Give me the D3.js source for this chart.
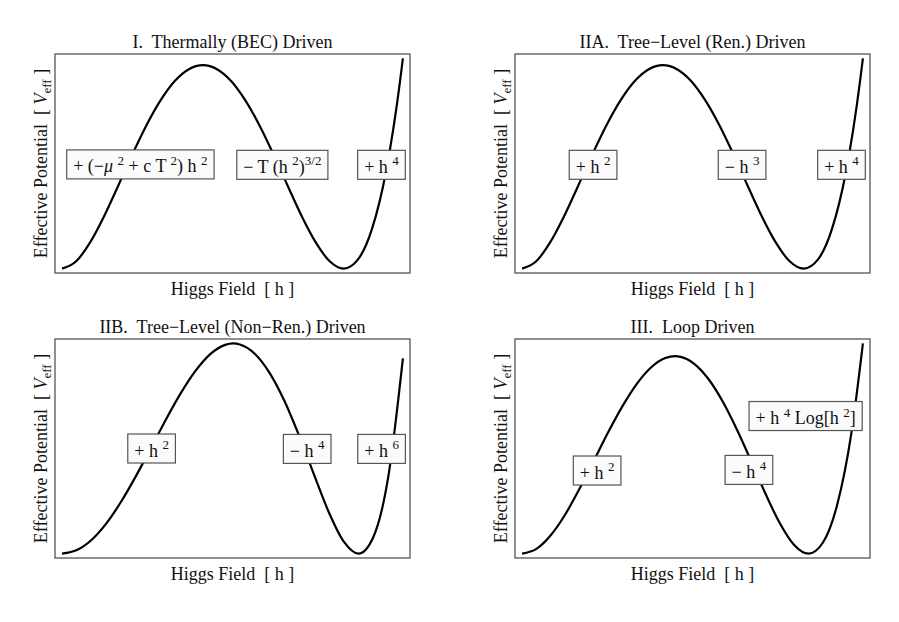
<!DOCTYPE html>
<html>
<head>
<meta charset="utf-8">
<script src="https://cdn.jsdelivr.net/npm/d3@7"></script>
<style>
  body { margin: 0; background: #fff; }
  svg text { font-family: "Liberation Serif", "Times New Roman", serif; font-size: 18px; fill: #111; white-space: pre; }
</style>
</head>
<body>
<svg id="chart" width="899" height="622"></svg>
<script>
// Potential shapes (h in field units, V scaled so the barrier top = 1)
const hQuartic = [0, 0.05, 0.1, 0.15, 0.2, 0.25, 0.3, 0.35, 0.4, 0.45, 0.5, 0.55, 0.6, 0.65, 0.7, 0.75, 0.8, 0.85, 0.9, 0.95, 1.0, 1.05, 1.1, 1.15, 1.2, 1.21];
const vQuartic = [0, 0.036, 0.13, 0.26, 0.41, 0.563, 0.706, 0.828, 0.922, 0.98, 1.0, 0.98, 0.922, 0.828, 0.706, 0.563, 0.41, 0.26, 0.13, 0.036, 0, 0.044, 0.194, 0.476, 0.922, 1.033];

const hSextic = [0, 0.05, 0.1, 0.15, 0.2, 0.25, 0.3, 0.35, 0.4, 0.45, 0.5, 0.55, 0.577, 0.6, 0.65, 0.7, 0.75, 0.8, 0.85, 0.9, 0.95, 1.0, 1.05, 1.1, 1.15];
const vSextic = [0, 0.017, 0.066, 0.145, 0.249, 0.371, 0.503, 0.637, 0.762, 0.869, 0.949, 0.993, 1.0, 0.995, 0.951, 0.86, 0.727, 0.56, 0.376, 0.197, 0.058, 0, 0.078, 0.36, 0.929];

const hLoop = [0, 0.05, 0.1, 0.15, 0.2, 0.25, 0.3, 0.35, 0.4, 0.45, 0.5, 0.535, 0.55, 0.6, 0.65, 0.7, 0.75, 0.8, 0.85, 0.9, 0.95, 1.0, 1.05, 1.1, 1.15, 1.19];
const vLoop = [0, 0.024, 0.093, 0.197, 0.327, 0.469, 0.613, 0.746, 0.859, 0.943, 0.991, 1.0, 0.998, 0.963, 0.886, 0.772, 0.629, 0.468, 0.303, 0.154, 0.044, 0, 0.055, 0.246, 0.613, 1.065];

const titles = [
  "I.  Thermally (BEC) Driven",
  "IIA.  Tree\u2212Level (Ren.) Driven",
  "IIB.  Tree\u2212Level (Non\u2212Ren.) Driven",
  "III.  Loop Driven"
];
const xTitle = "Higgs Field  [ h ]";
const yTitleParts = [["Effective Potential  [ ", ""], ["V", "i"], ["eff", "sub"], [" ]", ""]];

// term labels: text pieces + where they sit (h, V)
const termsI = [
  { parts: [["+ (\u2212", ""], ["\u03bc", "i"], [" ", ""], ["2", "sup"], [" + c T ", ""], ["2", "sup"], [") h ", ""], ["2", "sup"]], at: [0.278, 0.512] },
  { parts: [["\u2212 T (h ", ""], ["2", "sup"], [")", ""], ["3/2", "sup"]], at: [0.782, 0.51] },
  { parts: [["+ h ", ""], ["4", "sup"]], at: [1.134, 0.51] }
];
const termsIIA = [
  { parts: [["+ h ", ""], ["2", "sup"]], at: [0.252, 0.51] },
  { parts: [["\u2212 h ", ""], ["3", "sup"]], at: [0.781, 0.51] },
  { parts: [["+ h ", ""], ["4", "sup"]], at: [1.134, 0.51] }
];
const termsIIB = [
  { parts: [["+ h ", ""], ["2", "sup"]], at: [0.302, 0.5] },
  { parts: [["\u2212 h ", ""], ["4", "sup"]], at: [0.827, 0.498] },
  { parts: [["+ h ", ""], ["6", "sup"]], at: [1.078, 0.498] }
];
const termsIII = [
  { parts: [["+ h ", ""], ["2", "sup"]], at: [0.262, 0.421] },
  { parts: [["\u2212 h ", ""], ["4", "sup"]], at: [0.792, 0.424] },
  { parts: [["+ h ", ""], ["4", "sup"], [" Log[h ", ""], ["2", "sup"], ["]", ""]], at: [0.99, 0.697] }
];

const panels = [
  { title: titles[0], h: hQuartic, v: vQuartic, terms: termsI },
  { title: titles[1], h: hQuartic, v: vQuartic, terms: termsIIA },
  { title: titles[2], h: hSextic, v: vSextic, terms: termsIIB },
  { title: titles[3], h: hLoop, v: vLoop, terms: termsIII }
];

const svg = d3.select("#chart");
const frameW = 355, frameH = 219;
const colX = [55, 515], rowY = [54, 339];

// write text made of plain / italic / super / sub pieces
function rich(textSel, parts) {
  let shift = 0;
  parts.forEach(([s, kind]) => {
    const target = kind === "sup" ? -7.5 : kind === "sub" ? 4 : 0;
    const ts = textSel.append("tspan").attr("dy", target - shift).text(s);
    if (kind === "sup" || kind === "sub") ts.style("font-size", "13px");
    if (kind === "i") ts.style("font-style", "italic");
    shift = target;
  });
}

panels.forEach((p, i) => {
  const left = colX[i % 2], top = rowY[Math.floor(i / 2)];
  const padX = frameW * 0.02, padY = frameH * 0.02;

  const x = d3.scaleLinear().domain(d3.extent(p.h)).range([left + padX, left + frameW - padX]);
  const y = d3.scaleLinear().domain(d3.extent(p.v)).range([top + frameH - padY, top + padY]);

  const g = svg.append("g");

  g.append("rect")
    .attr("x", left).attr("y", top)
    .attr("width", frameW).attr("height", frameH)
    .attr("fill", "none")
    .attr("stroke", "#555")
    .attr("stroke-width", 1.3);

  const line = d3.line()
    .x(d => x(d[0]))
    .y(d => y(d[1]))
    .curve(d3.curveMonotoneX);

  g.append("path")
    .datum(d3.zip(p.h, p.v))
    .attr("d", line)
    .attr("fill", "none")
    .attr("stroke", "#000")
    .attr("stroke-width", 2.2);

  // titles
  g.append("text")
    .attr("x", left + frameW / 2)
    .attr("y", top - 6.5)
    .attr("text-anchor", "middle")
    .text(p.title);

  g.append("text")
    .attr("x", left + frameW / 2)
    .attr("y", top + frameH + 22)
    .attr("text-anchor", "middle")
    .text(xTitle);

  const yl = g.append("text")
    .attr("transform", `translate(${left - 8.5},${top + frameH / 2}) rotate(-90)`)
    .attr("text-anchor", "middle");
  rich(yl, yTitleParts);

  // framed term labels
  p.terms.forEach(term => {
    const cx = x(term.at[0]), cy = y(term.at[1]);
    const lg = g.append("g");
    const t = lg.append("text")
      .attr("x", cx)
      .attr("y", cy + 8)
      .attr("text-anchor", "middle");
    rich(t, term.parts);
    const w = t.node().getComputedTextLength() + 13;
    lg.insert("rect", "text")
      .attr("x", cx - w / 2)
      .attr("y", cy - 14.5)
      .attr("width", w)
      .attr("height", 29)
      .attr("fill", "#fbfbfb")
      .attr("stroke", "#555")
      .attr("stroke-width", 1.2);
  });
});
</script>
</body>
</html>
